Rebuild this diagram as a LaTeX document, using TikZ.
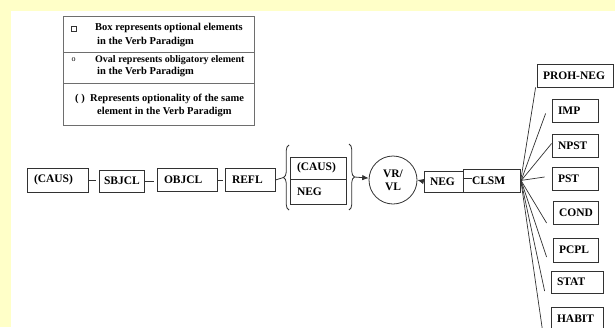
\documentclass[tikz,border=0pt]{standalone}
\usepackage{fontspec}
\setmainfont{Liberation Serif}
\usetikzlibrary{arrows.meta,decorations.pathreplacing}
\definecolor{bgyellow}{RGB}{255,255,200}
\definecolor{linegray}{RGB}{50,50,50}
\definecolor{leggray}{RGB}{110,110,110}
\begin{document}
\begin{tikzpicture}[x=1pt,y=-1pt,
  font=\fontsize{11.5}{13}\selectfont\bfseries,
  bx/.style={draw=linegray, line width=0.8pt, inner xsep=7pt, inner ysep=0pt, align=left},
  legbox/.style={draw=leggray, line width=0.9pt, inner sep=0pt},
  lt/.style={anchor=west, inner sep=0pt, font=\fontsize{10.5}{12}\selectfont\bfseries},
  conn/.style={draw=linegray, line width=0.8pt},
  arr/.style={conn, -{Latex[length=6.5pt,width=5.5pt]}},
  fan/.style={draw=linegray, line width=0.7pt}]
% background
\fill[bgyellow] (0,0) rectangle (615,327);
\fill[white] (11,11) rectangle (615,327);
\useasboundingbox (0,0) rectangle (615,327);

% legend
\node[legbox, minimum width=191pt, minimum height=36pt] (leg1) at (158.5,34) {};
\node[legbox, minimum width=191pt, minimum height=31pt] (leg2) at (158.5,67.5) {};
\node[legbox, minimum width=191pt, minimum height=42pt] (leg3) at (158.5,104) {};
\node[draw=linegray, line width=0.6pt, minimum size=5.5pt, inner sep=0pt] (sq) at (74,29) {};
\node[lt] (l1a) at (95,28) {Box represents optional elements};
\node[lt] (l1b) at (97,42) {in the Verb Paradigm};
\node[lt, font=\fontsize{8}{9}\selectfont] (oo) at (71.5,60) {o};
\node[lt, font=\fontsize{10}{12}\selectfont\bfseries] (l2a) at (95,60) {Oval represents obligatory element};
\node[lt] (l2b) at (97,72) {in the Verb Paradigm};
\node[lt] (par) at (75,99) {( )};
\node[lt] (l3a) at (90,99) {Represents optionality of the same};
\node[lt] (l3b) at (97,112) {element in the Verb Paradigm};

% main row
\node[bx, text width=47pt, minimum height=24pt] (caus) at (57.5,180) {(CAUS)};
\node[bx, inner xsep=5pt, text width=35pt, minimum height=22pt] (sbjcl) at (121.5,181) {SBJCL};
\node[bx, text width=46pt, minimum height=23pt] (objcl) at (187,180) {OBJCL};
\node[bx, text width=36pt, minimum height=23pt] (refl) at (250,180) {REFL};
\node[bx, text width=42pt, minimum height=22pt] (causb) at (318,168) {(CAUS)};
\node[bx, text width=42pt, minimum height=25pt] (neg1) at (318,191.5) {NEG};
\node[draw=linegray, line width=0.8pt, circle, minimum size=48pt, inner sep=0pt, align=center,
      font=\fontsize{11.5}{13}\selectfont\bfseries] (vr) at (393,180) {VR/\\VL};
\node[bx, inner xsep=6pt, text width=27pt, minimum height=21pt] (neg2) at (443.5,181.5) {NEG};
\node[bx, inner xsep=9pt, text width=39pt, minimum height=23pt] (clsm) at (491.5,180.5) {CLSM};

% right column
\node[bx, inner xsep=6pt, text width=64pt, minimum height=23pt] (prohneg) at (575,75.5) {PROH-NEG};
\node[bx, inner xsep=6pt, text width=34pt, minimum height=23pt] (imp) at (575,110.5) {IMP};
\node[bx, inner xsep=6pt, text width=34pt, minimum height=23pt] (npst) at (575,145.5) {NPST};
\node[bx, inner xsep=6pt, text width=34pt, minimum height=23pt] (pst) at (575,178.5) {PST};
\node[bx, inner xsep=6pt, text width=33pt, minimum height=23pt] (cond) at (575.5,213) {COND};
\node[bx, inner xsep=6pt, text width=33pt, minimum height=24pt] (pcpl) at (575.5,250) {PCPL};
\node[bx, inner xsep=6pt, text width=40pt, minimum height=22pt] (stat) at (577,282) {STAT};
\node[bx, inner xsep=6pt, text width=40pt, minimum height=23pt] (habit) at (577,319) {HABIT};

% braces
\draw[conn, decorate, decoration={brace, amplitude=5.5pt}] (289,210) -- (289,145);
\coordinate (lbt) at (283.5,177.5);
\draw[conn, decorate, decoration={brace, amplitude=5.5pt}] (349,144) -- (349,210);
\coordinate (rbt) at (354.5,177);

% connectors
\draw[conn, shorten >=2.5pt] (caus.east) -- (sbjcl.west |- caus.east);
\draw[conn, shorten >=2.5pt] (sbjcl.east) -- (objcl.west |- sbjcl.east);
\draw[conn, shorten >=2pt] (objcl.east) -- (refl.west);
\draw[conn] (refl.east) -- (lbt);
\draw[arr] (rbt) -- (vr);
\draw[arr] (neg2.west) -- (vr.east);
\coordinate (clsmtick) at (472,178);
\draw[conn] (clsm.west |- clsmtick) -- (clsmtick);

% fan
\draw[fan] ([yshift=-2pt]clsm.east) -- ([xshift=-1pt]prohneg.south west);
\draw[fan] ([yshift=-2pt]clsm.east) -- ([xshift=-6pt,yshift=-3pt]imp.west);
\draw[fan] ([yshift=-1pt]clsm.east) -- ([xshift=0pt,yshift=2pt]npst.west);
\draw[fan] (clsm.east) -- ([xshift=-7pt,yshift=1.5pt]pst.west);
\draw[fan] ([yshift=1pt]clsm.east) -- ([xshift=-6pt,yshift=-10pt]cond.west);
\draw[fan] ([yshift=2pt]clsm.east) -- ([xshift=-6pt,yshift=-7pt]pcpl.west);
\draw[fan] ([yshift=2.5pt]clsm.east) -- ([xshift=-6pt,yshift=-9pt]stat.west);
\draw[fan] ([yshift=3pt]clsm.east) -- ([xshift=-8pt,yshift=-12pt]habit.west);
\end{tikzpicture}
\end{document}
